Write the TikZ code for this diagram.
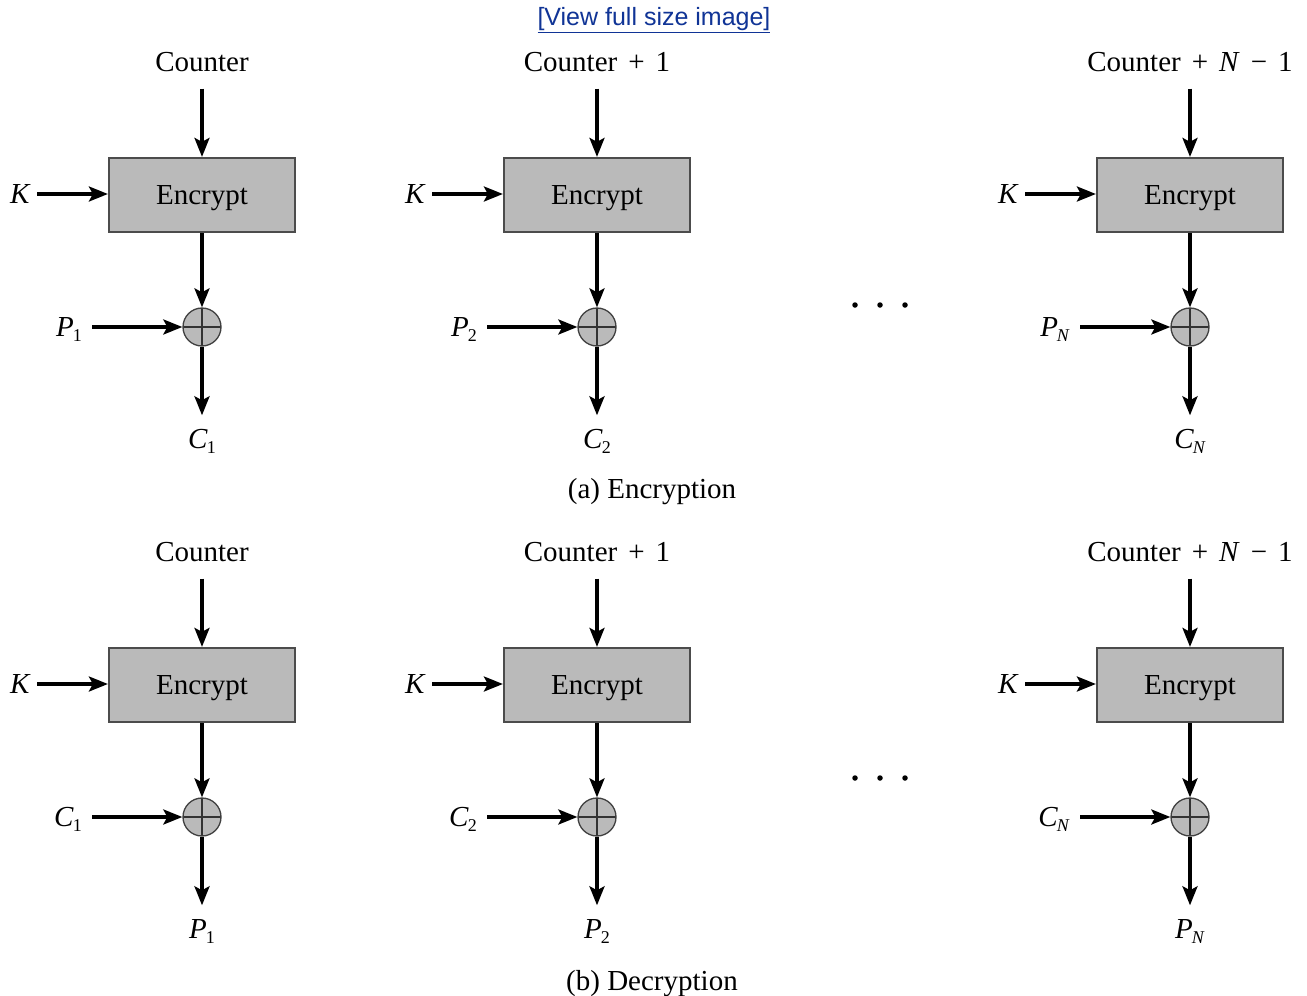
\documentclass[tikz,border=0pt]{standalone}
\usepackage{fontspec}
\setmainfont{Liberation Serif}
\newfontfamily\linkfont{Liberation Sans}
\usetikzlibrary{arrows.meta}
\definecolor{linkblue}{RGB}{16,52,150}
\newcommand\sbs[2]{\textit{#1}\kern-1pt\raisebox{-5pt}{\fontsize{18}{18}\selectfont #2}}
\newcommand\opsp[1]{\hskip11pt#1\hskip11pt}
\tikzset{
  lbl/.style={inner sep=0pt, text height=19pt, text depth=0pt, font=\fontsize{29}{31}\selectfont},
  encbox/.style={draw=black!70, line width=2.2pt, fill=black!27, minimum width=186pt,
    minimum height=74pt, inner sep=0pt, text height=19pt, text depth=0pt,
    font=\fontsize{29}{31}\selectfont},
  xorc/.style={circle, draw=black!75, line width=1.3pt, fill=black!27, minimum size=38pt,
    inner sep=0pt, path picture={\draw[line width=1.3pt,black!80]
      (path picture bounding box.north) -- (path picture bounding box.south)
      (path picture bounding box.west) -- (path picture bounding box.east);}},
  arr/.style={line width=3.3pt, -{Stealth[length=19pt,width=15pt,inset=4pt]}},
  dotc/.style={circle, fill=black, inner sep=0pt, minimum size=5.5pt},
}
\newcommand\ctrunit[6]{%
  \node[lbl] (#1c) at (#2,62+#3) {#4};
  \node[encbox] (#1e) at (#2,195+#3) {Encrypt};
  \node[xorc] (#1x) at (#2,327+#3) {};
  \node[lbl,anchor=east] (#1k) at (#2-171,194+#3) {\textit{K}};
  \node[lbl,anchor=east] (#1i) at (#2-120,327+#3) {#5};
  \node[lbl] (#1o) at (#2,439+#3) {#6};
  \draw[arr,shorten <=17pt] (#1c) -- (#1e);
  \draw[arr,shorten <=6pt] (#1k.east) -- (#1k.east -| #1e.west);
  \draw[arr] (#1e) -- (#1x);
  \draw[arr,shorten <=10pt] (#1i) -- (#1x);
  \draw[arr,shorten >=14pt] (#1x) -- (#1o);
}
\begin{document}
\begin{tikzpicture}[x=1pt,y=-1pt]
\useasboundingbox[fill=white] (0,0) rectangle (1307,996);
\node[font=\linkfont\fontsize{25}{25}\selectfont, text=linkblue, inner sep=0pt] (link) at (654,20) {\underline{[View full size image]}};
% (a) Encryption
\ctrunit{aa}{202}{0}{Counter}{\sbs{P}{1}}{\sbs{C}{1}}
\ctrunit{ab}{597}{0}{Counter\opsp{+}1}{\sbs{P}{2}}{\sbs{C}{2}}
\ctrunit{ac}{1190}{0}{Counter\opsp{+}\textit{N}\opsp{−}1}{\sbs{P}{\textit{N}}}{\sbs{C}{\textit{N}}}
\node[dotc] (ad1) at (855,305) {};
\node[dotc] (ad2) at (880,305) {};
\node[dotc] (ad3) at (905,305) {};
\node[lbl] (capa) at (652,489) {(a) Encryption};
% (b) Decryption
\ctrunit{ba}{202}{490}{Counter}{\sbs{C}{1}}{\sbs{P}{1}}
\ctrunit{bb}{597}{490}{Counter\opsp{+}1}{\sbs{C}{2}}{\sbs{P}{2}}
\ctrunit{bc}{1190}{490}{Counter\opsp{+}\textit{N}\opsp{−}1}{\sbs{C}{\textit{N}}}{\sbs{P}{\textit{N}}}
\node[dotc] (bd1) at (855,778) {};
\node[dotc] (bd2) at (880,778) {};
\node[dotc] (bd3) at (905,778) {};
\node[lbl] (capb) at (652,981) {(b) Decryption};
\end{tikzpicture}
\end{document}
